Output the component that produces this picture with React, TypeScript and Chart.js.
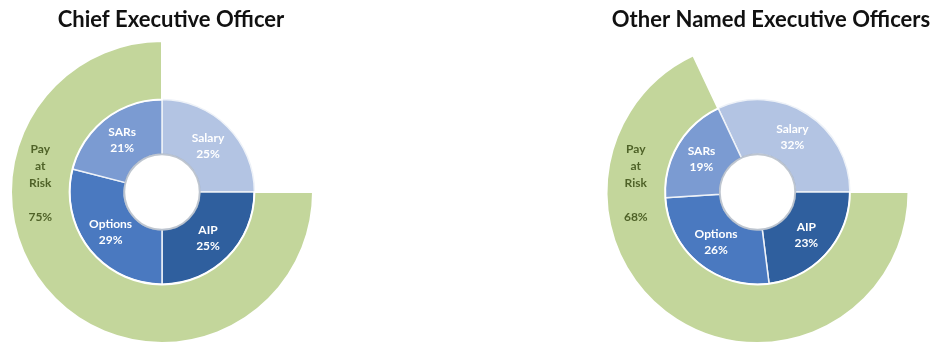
import React, { useEffect, useRef } from "react";
import { Chart, registerables } from "chart.js";

Chart.register(...registerables);

// ---- data ----
const titles = ["Chief Executive Officer", "Other Named Executive Officers"];
const components = ["Salary", "AIP", "Options", "SARs"];
const ceoValues = [25, 25, 29, 21];
const otherValues = [32, 23, 26, 19];
const payAtRisk = [75, 68];
const fixedPay = [25, 32];
const riskLabel = ["Pay", "at", "Risk"];

const componentColors = ["#b3c4e3", "#2f5f9e", "#4a79c0", "#7b9bd2"];
const riskColor = "#c3d69b";
const riskTextColor = "#4f6228";
const FONT = "Lato, 'Open Sans', sans-serif";

function makeConfig(idx: number, values: number[], titleX: number) {
  const rotation = 90 - values[0] * 3.6;
  const labelPlugin = {
    id: "labels" + idx,
    afterDatasetsDraw(chart: any) {
      const ctx = chart.ctx;
      ctx.save();
      // title
      ctx.fillStyle = "#111";
      ctx.font = `bold 22px ${FONT}`;
      ctx.textAlign = "center";
      ctx.textBaseline = "middle";
      ctx.fillText(titles[idx], titleX, 20);

      // inner hole edge
      const inner = chart.getDatasetMeta(1);
      const a0 = inner.data[0];
      ctx.beginPath();
      ctx.arc(a0.x, a0.y, a0.innerRadius, 0, Math.PI * 2);
      ctx.strokeStyle = "rgba(150,160,175,0.55)";
      ctx.lineWidth = 2;
      ctx.stroke();

      // inner labels
      ctx.font = `bold 12px ${FONT}`;
      ctx.fillStyle = "#ffffff";
      inner.data.forEach((arc: any, i: number) => {
        const p = arc.tooltipPosition();
        ctx.fillText(components[i], p.x, p.y - 8);
        ctx.fillText(values[i] + "%", p.x, p.y + 8);
      });

      // pay at risk label
      const outer = chart.getDatasetMeta(0);
      const g = outer.data[1];
      const rMid = (g.innerRadius + g.outerRadius) / 2;
      const cx = g.x - rMid;
      const cy = g.y - 9;
      ctx.fillStyle = riskTextColor;
      const lh = 17;
      const lines = [...riskLabel, "", payAtRisk[idx] + "%"];
      const start = cy - ((lines.length - 1) * lh) / 2;
      lines.forEach((t, k) => {
        if (t) ctx.fillText(t, cx, start + k * lh);
      });
      ctx.restore();
    },
  };

  return {
    type: "doughnut" as const,
    data: {
      labels: components,
      datasets: [
        {
          label: "Pay at Risk",
          data: [fixedPay[idx], payAtRisk[idx]],
          backgroundColor: ["rgba(0,0,0,0)", riskColor],
          borderColor: ["rgba(0,0,0,0)", "#ffffff"],
          borderWidth: [0, 2],
          weight: 59,
        },
        {
          label: "Components",
          data: values,
          backgroundColor: componentColors,
          borderColor: "#eef2f8",
          borderWidth: 1.5,
          weight: 55,
        },
      ],
    },
    options: {
      animation: false as const,
      responsive: false,
      maintainAspectRatio: false,
      rotation,
      cutout: "25%",
      layout: { padding: { top: 40, bottom: 1, left: 10, right: 26 } },
      plugins: {
        legend: { display: false },
        tooltip: { enabled: false },
        title: { display: false },
      },
    },
    plugins: [labelPlugin],
  };
}

function DonutCanvas({ idx, values, left, width, titleX }: any) {
  const ref = useRef<HTMLCanvasElement | null>(null);
  useEffect(() => {
    if (!ref.current) return;
    const chart = new Chart(ref.current, makeConfig(idx, values, titleX) as any);
    return () => chart.destroy();
  }, []);
  return (
    <canvas
      ref={ref}
      width={width}
      height={345}
      style={{ position: "absolute", left, top: 0, width, height: 345 }}
    />
  );
}

export default function App() {
  return (
    <div
      style={{
        position: "absolute",
        left: 0,
        top: 0,
        width: 936,
        height: 345,
        background: "#ffffff",
        overflow: "hidden",
      }}
    >
      <DonutCanvas idx={0} values={ceoValues} left={0} width={340} titleX={171} />
      <DonutCanvas idx={1} values={otherValues} left={595} width={341} titleX={176} />
    </div>
  );
}
